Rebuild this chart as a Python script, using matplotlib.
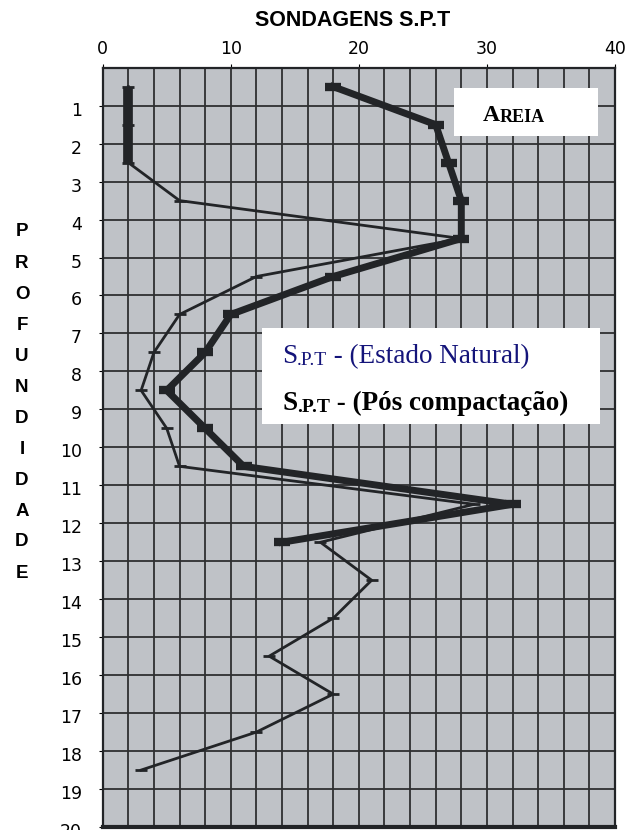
import matplotlib
matplotlib.use("Agg")
import matplotlib.pyplot as plt
import matplotlib.transforms as mtransforms
from matplotlib.patches import Rectangle

#  Data
# ******************************
depth_pos = [0.5, 1.5, 2.5, 3.5, 4.5, 5.5, 6.5, 7.5, 8.5, 9.5, 10.5, 11.5, 12.5]
spt_pos = [18, 26, 27, 28, 28, 18, 10, 8, 5, 8, 11, 32, 14]

depth_nat = [0.5, 1.5, 2.5, 3.5, 4.5, 5.5, 6.5, 7.5, 8.5, 9.5, 10.5, 11.5, 12.5,
             13.5, 14.5, 15.5, 16.5, 17.5, 18.5]
spt_nat = [2, 2, 2, 6, 28, 12, 6, 4, 3, 5, 6, 29, 17, 21, 18, 13, 18, 12, 3]

x_ticks = [0, 10, 20, 30, 40]
y_ticks = list(range(1, 21))
title = "SONDAGENS S.P.T"
ylabel = "PROFUNDIDADE"

W, H = 633, 830
line_col = "#222427"
bg_col = "#bfc2c7"
grid_col = "#2e2f31"

fig = plt.figure(figsize=(W / 100, H / 100), dpi=100)
ax = fig.add_axes([102.7 / W, 1 - 827 / H, (615 - 102.7) / W, (827 - 67.7) / H])
ax.set_facecolor(bg_col)

# grid: every 2 on x, every 1 on y
ax.set_xlim(0, 40)
ax.set_ylim(20, 0)
ax.set_xticks(x_ticks)
ax.set_xticks(range(0, 41, 2), minor=True)
ax.set_yticks(y_ticks)
ax.grid(True, which="both", axis="x", color=grid_col, lw=1.3)
ax.grid(True, which="major", axis="y", color=grid_col, lw=1.3)
ax.set_axisbelow(True)
ax.xaxis.tick_top()
ax.tick_params(axis="x", which="major", length=3, pad=4, labelsize=12.5)
ax.tick_params(axis="x", which="minor", length=0)
ax.tick_params(axis="y", length=3, pad=12, labelsize=12.5)
for s in ax.spines.values():
    s.set_color(line_col)
    s.set_linewidth(1.6)
ax.spines["bottom"].set_linewidth(3)

# push y labels a bit lower like in the reference
offset = mtransforms.ScaledTranslation(0, -3 / 100, fig.dpi_scale_trans)
for lab in ax.get_yticklabels():
    lab.set_transform(lab.get_transform() + offset)

#  Series
# *******
ax.plot(spt_nat, depth_nat, color=line_col, lw=2, marker="_", ms=8, mew=2,
        solid_joinstyle="round", zorder=3)
ax.plot(spt_nat[:3], depth_nat[:3], color=line_col, lw=7, solid_capstyle="butt", zorder=3.5)
ax.plot(spt_pos, depth_pos, color=line_col, lw=5, marker="_", ms=12, mew=6,
        solid_joinstyle="round", zorder=4)

#  Text boxes (all on the axes so they stack in the right order)
# ***************************************************************
def box(x0, y0, x1, y1):
    ax.add_patch(Rectangle((x0 / W, 1 - y1 / H), (x1 - x0) / W, (y1 - y0) / H,
                           transform=fig.transFigure, facecolor="white",
                           edgecolor="none", zorder=5))


def chain(x, y, pieces, color, weight):
    prev = ax.text(x / W, 1 - y / H, pieces[0][0], fontsize=pieces[0][1], color=color,
                   family="Liberation Serif", weight=weight, va="baseline",
                   transform=fig.transFigure, zorder=6)
    for s, size in pieces[1:]:
        prev = ax.annotate(s, xy=(1, 0), xycoords=prev, va="bottom", ha="left",
                           fontsize=size, color=color, family="Liberation Serif",
                           weight=weight, zorder=6, annotation_clip=False)
    return prev


box(454, 88, 598, 136)
chain(483, 121, [("A", 17), ("REIA", 13)], "black", "bold")

box(262, 328, 600, 424)
chain(282, 363, [("S", 19.5), (".P.T", 14), (" - (Estado Natural)", 19.5)], "#14147a", "normal")
chain(282, 410, [("S", 19.5), (".P.T", 14), (" - (Pós compactação)", 19.5)], "black", "bold")

#  Titles
# *******
fig.text(353 / W, 1 - 21 / H, title, ha="center", va="center", fontsize=15.5,
         weight="bold", family="Liberation Sans")
for i, ch in enumerate(ylabel):
    fig.text(22 / W, 1 - (232 + i * 31) / H, ch, ha="center", va="center",
             fontsize=13.5, weight="bold", family="Liberation Sans")

fig.savefig("out.png", dpi=100)
